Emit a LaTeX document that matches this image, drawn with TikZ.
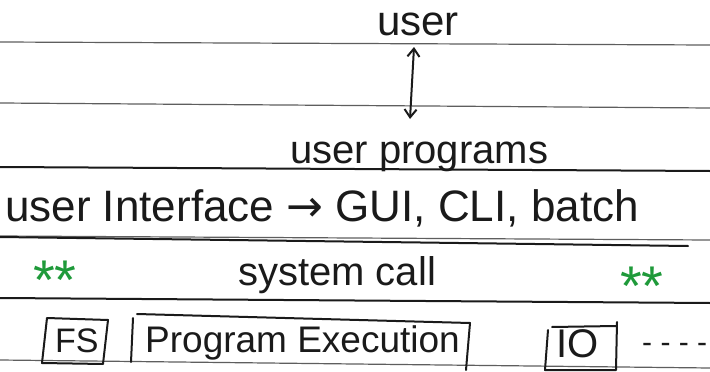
\documentclass[tikz,border=0pt]{standalone}
\usepackage{fontspec}
\setmainfont{Liberation Sans}
\newfontfamily\djv{DejaVu Sans}
\usetikzlibrary{arrows.meta}
\definecolor{ink}{HTML}{1A1A1A}
\definecolor{rule}{HTML}{5E5E5E}
\definecolor{mark}{HTML}{1F9A3A}
\tikzset{
  ruled/.style={draw=rule, line width=1.2pt},
  hand/.style={draw=ink, line width=2pt, line cap=round, line join=round},
  txt/.style={anchor=base west, inner sep=0pt, text=ink},
  star/.style={anchor=center, inner sep=0pt, text=mark, font=\fontsize{56}{56}\selectfont}
}
\begin{document}
\begin{tikzpicture}[x=1pt,y=-1pt]
\useasboundingbox[fill=white] (0,0) rectangle (710,372);
% ruled lines of the paper
\draw[ruled] (0,42) -- (710,45);
\draw[ruled] (0,103) -- (710,108);
\draw[ruled] (0,236) -- (710,240);
\draw[ruled] (0,360) -- (710,368);
% hand drawn lines
\draw[hand] (0,167) -- (710,171);
\draw[hand] (0,237) -- (688,246);
\draw[hand] (0,298) -- (710,303);
% texts
\node[txt, font=\fontsize{42}{42}\selectfont] (user) at (377,35) {user};
\node[txt, font=\fontsize{40}{40}\selectfont] (prog) at (290,163) {user programs};
\node[txt, font=\fontsize{44}{44}\selectfont] (ui) at (5,221) {user Interface {\djv →} GUI, CLI, batch};
\node[txt, font=\fontsize{40}{40}\selectfont] (sys) at (238,285) {system call};
\node[star] (s1) at (55,280) {**};
\node[star] (s2) at (642,286) {**};
\node[txt, font=\fontsize{34}{34}\selectfont] (fs) at (55,352) {FS};
\node[txt, font=\fontsize{37}{37}\selectfont] (pe) at (145,352) {Program Execution};
\node[txt, font=\fontsize{40}{40}\selectfont] (io) at (556,357) {IO};
\node[txt, font=\fontsize{30}{30}\selectfont] (more) at (642,352) {- - - -};
% arrow between user and user programs
\coordinate (a1) at (414,47);
\coordinate (a2) at (410,119);
\draw[hand, {Straight Barb[length=8pt,width=12pt]}-{Straight Barb[length=8pt,width=12pt]}] (a1) -- (a2);
% boxes
\draw[hand] (47,318) -- (108,320) -- (103,364) -- (42,363) -- cycle;
\draw[hand] (133,318) -- (131,362);
\draw[hand] (137,314) -- (470,323) -- (466,370);
\draw[hand] (552,327) -- (616,326);
\draw[hand] (548,330) -- (545,370) -- (616,370) -- (617,322);
\end{tikzpicture}
\end{document}
